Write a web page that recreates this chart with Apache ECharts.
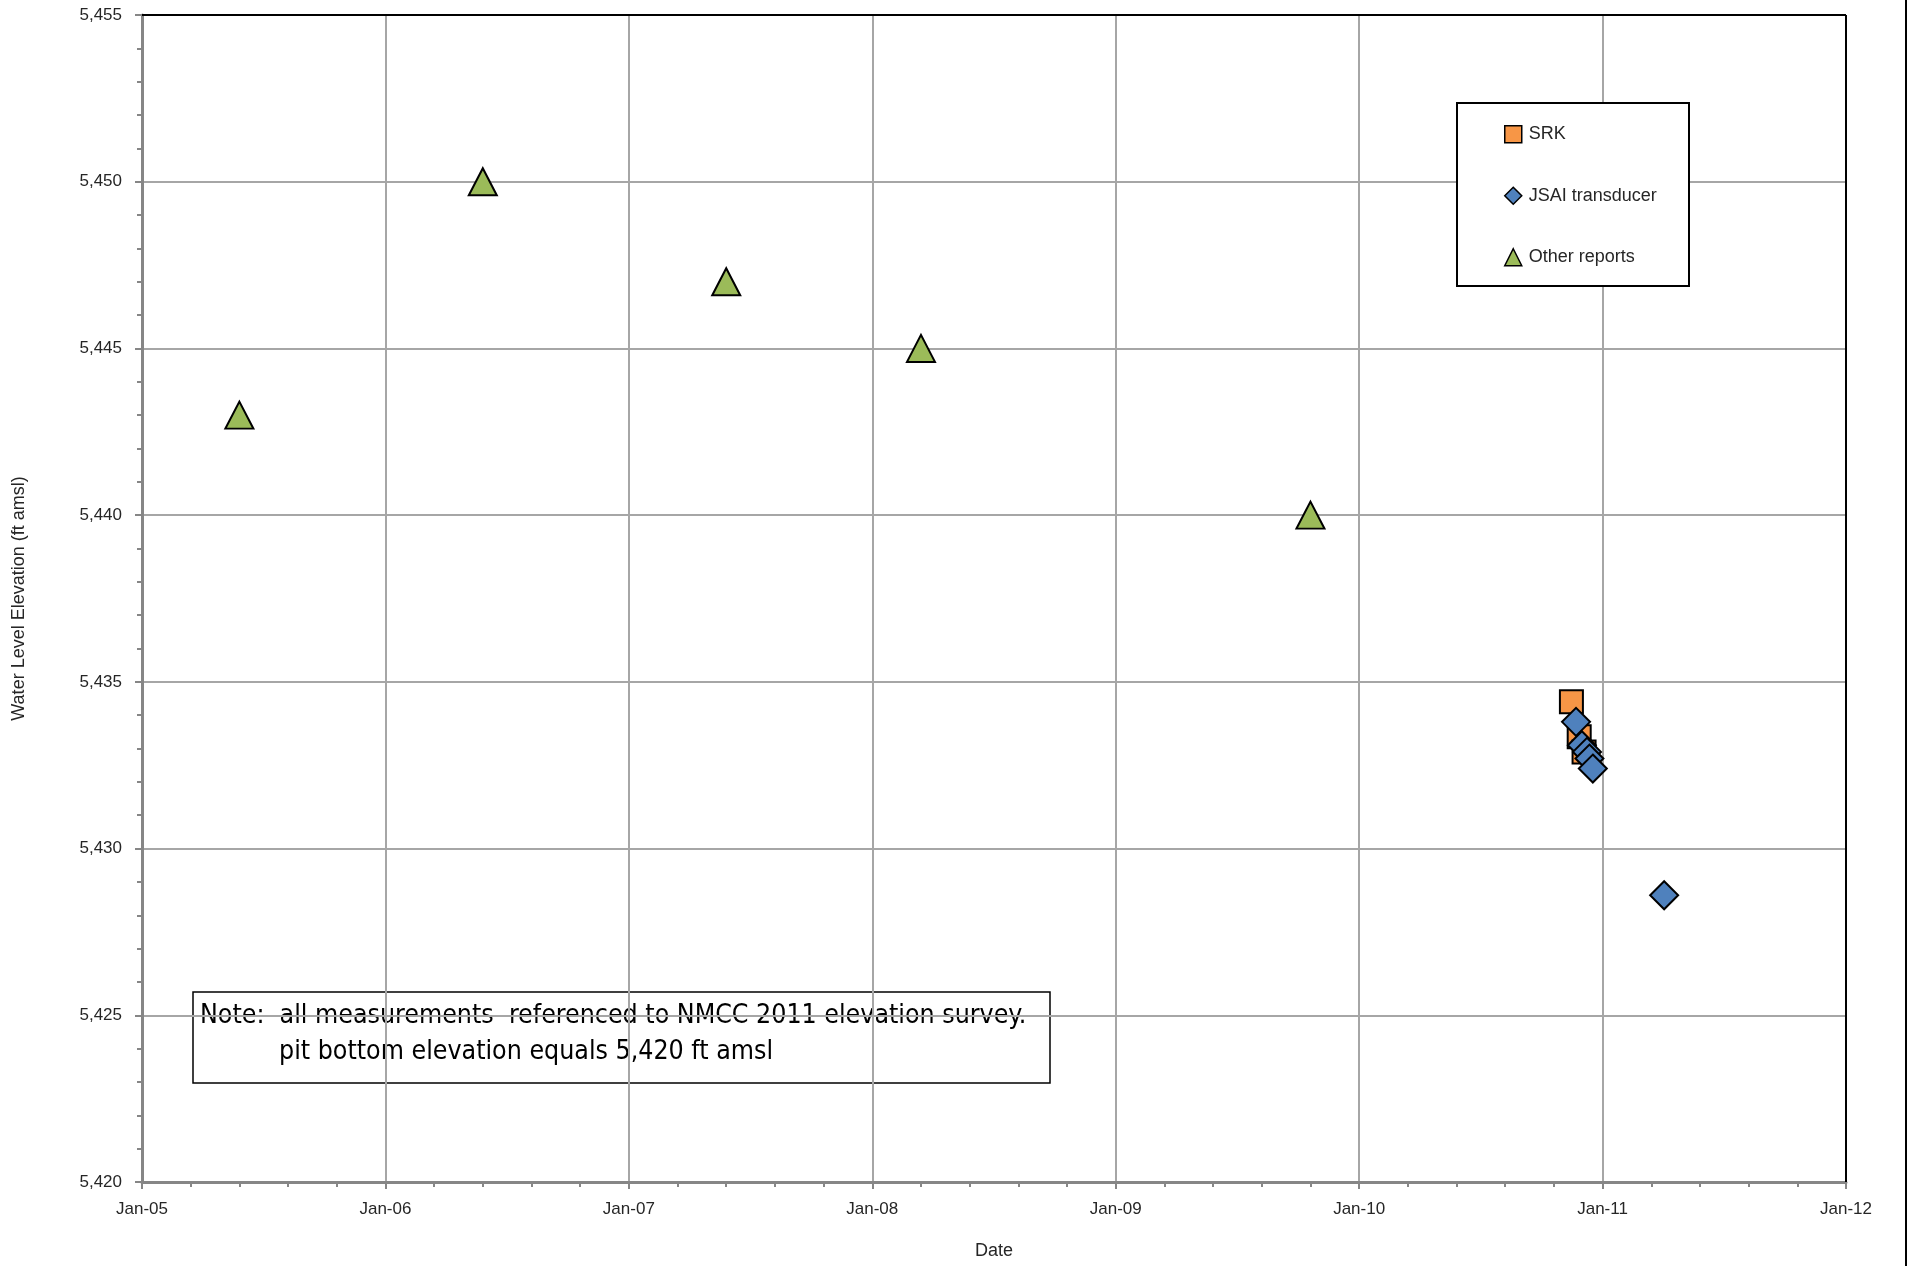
<!DOCTYPE html>
<html>
<head>
<meta charset="utf-8">
<title>Pit Lake Water Level</title>
<script src="https://cdn.jsdelivr.net/npm/echarts@6/dist/echarts.min.js"></script>
<style>
  html, body { margin: 0; padding: 0; background: #fff; }
  #chart { width: 1908px; height: 1266px; }
</style>
</head>
<body>
<div id="chart"></div>
<script>
// Water level observations, x in decimal years, y in ft amsl
const seriesNames = ['SRK', 'JSAI transducer', 'Other reports'];

const srkX = [2010.872, 2010.904, 2010.924];
const srkY = [5434.4, 5433.35, 5432.9];

const jsaiX = [2010.891, 2010.915, 2010.936, 2010.946, 2010.960, 2011.253];
const jsaiY = [5433.8, 5433.1, 5432.9, 5432.7, 5432.4, 5428.6];

const otherX = [2005.40, 2006.40, 2007.40, 2008.20, 2009.80];
const otherY = [5443, 5450, 5447, 5445, 5440];

const xAxisMin = 2005, xAxisMax = 2012, xAxisStep = 1;
const yAxisMin = 5420, yAxisMax = 5455, yAxisStep = 5;

const xTitle = 'Date';
const yTitle = 'Water Level Elevation (ft amsl)';
const noteLine1 = 'Note:  all measurements  referenced to NMCC 2011 elevation survey.';
const noteLine2 = 'pit bottom elevation equals 5,420 ft amsl';

const zip = (xs, ys) => xs.map((x, i) => [x, ys[i]]);

const colors = ['#F79646', '#4F81BD', '#9BBB59'];
const symbols = ['rect', 'diamond', 'triangle'];
const sizes = [23, 28, [28, 27]];
const dataSets = [zip(srkX, srkY), zip(jsaiX, jsaiY), zip(otherX, otherY)];

const axisGrey = '#868686';
const gridGrey = '#A6A6A6';
const textColor = '#262626';
const noteFont = 'Liberation Sans Narrow, DejaVu Sans Condensed, sans-serif';

const chart = echarts.init(document.getElementById('chart'));

const gridLeft = 142, gridTop = 15, gridRight = 62, gridBottom = 84;
const plotRight = 1908 - gridRight, plotBottom = 1266 - gridBottom;

chart.setOption({
  animation: false,
  backgroundColor: '#fff',
  grid: {
    left: gridLeft, top: gridTop, right: gridRight, bottom: gridBottom,
    show: false
  },
  xAxis: {
    type: 'value',
    min: xAxisMin, max: xAxisMax, interval: xAxisStep,
    name: xTitle, nameLocation: 'middle', nameGap: 60,
    nameTextStyle: { fontFamily: 'Liberation Sans', fontSize: 18, color: textColor },
    axisLine: { show: true, onZero: false, lineStyle: { color: axisGrey, width: 3 } },
    axisTick: { show: true, inside: false, length: 7, lineStyle: { color: axisGrey, width: 2 } },
    minorTick: { show: true, splitNumber: 5, length: 5, lineStyle: { color: axisGrey, width: 2 } },
    splitLine: { show: true, lineStyle: { color: gridGrey, width: 2 } },
    axisLabel: {
      margin: 19, fontFamily: 'Liberation Sans', fontSize: 17, color: textColor,
      formatter: v => 'Jan-' + String(Math.round(v) % 100).padStart(2, '0')
    }
  },
  yAxis: {
    type: 'value',
    min: yAxisMin, max: yAxisMax, interval: yAxisStep,
    name: yTitle, nameLocation: 'middle', nameGap: 114, nameRotate: 90,
    nameTextStyle: { fontFamily: 'Liberation Sans', fontSize: 18, color: textColor },
    axisLine: { show: true, onZero: false, lineStyle: { color: axisGrey, width: 3 } },
    axisTick: { show: true, inside: false, length: 7, lineStyle: { color: axisGrey, width: 2 } },
    minorTick: { show: true, splitNumber: 5, length: 5, lineStyle: { color: axisGrey, width: 2 } },
    splitLine: { show: true, lineStyle: { color: gridGrey, width: 2 } },
    axisLabel: {
      margin: 20, fontFamily: 'Liberation Sans', fontSize: 17, color: textColor,
      formatter: v => v.toLocaleString('en-US')
    }
  },
  legend: {
    orient: 'vertical',
    left: 1499, top: 120, z: 30,
    itemWidth: 17, itemHeight: 17, itemGap: 43,
    textStyle: { fontFamily: 'Liberation Sans', fontSize: 18, color: textColor, lineHeight: 17, padding: [0, 0, 0, 2] },
    data: seriesNames.map((n, i) => ({
      name: n, icon: symbols[i],
      itemStyle: { color: colors[i], borderColor: '#000', borderWidth: 1.5 }
    }))
  },
  graphic: [
    // plot frame: black on top and right edges
    {
      type: 'line', z: 25,
      shape: { x1: gridLeft, y1: gridTop, x2: plotRight, y2: gridTop },
      style: { stroke: '#000', lineWidth: 2 }
    },
    {
      type: 'line', z: 25,
      shape: { x1: plotRight, y1: gridTop, x2: plotRight, y2: plotBottom },
      style: { stroke: '#000', lineWidth: 2 }
    },
    // legend box
    {
      type: 'rect', z: 3,
      shape: { x: 1457, y: 103, width: 232, height: 183 },
      style: { fill: '#fff', stroke: '#000', lineWidth: 2 }
    },
    // note box
    {
      type: 'group', z: 20,
      children: [
        {
          type: 'rect',
          shape: { x: 193, y: 992, width: 857, height: 91 },
          style: { fill: '#fff', stroke: '#000', lineWidth: 1.5 }
        },
        {
          type: 'text', x: 200, y: 1016,
          style: { text: noteLine1, fill: '#000', fontFamily: noteFont, fontSize: 26.5, verticalAlign: 'middle' }
        },
        {
          type: 'text', x: 279, y: 1052,
          style: { text: noteLine2, fill: '#000', fontFamily: noteFont, fontSize: 26.5, verticalAlign: 'middle' }
        }
      ]
    },
    {
      type: 'rect', z: 20,
      shape: { x: 1905, y: 0, width: 2, height: 1266 },
      style: { fill: '#000' }
    }
  ],
  series: seriesNames.map((n, i) => ({
    name: n,
    type: 'scatter',
    symbol: symbols[i],
    symbolSize: sizes[i],
    z: 10 + i,
    itemStyle: { color: colors[i], borderColor: '#000', borderWidth: 2, opacity: 1 },
    emphasis: { disabled: true },
    data: dataSets[i]
  }))
});
</script>
</body>
</html>
